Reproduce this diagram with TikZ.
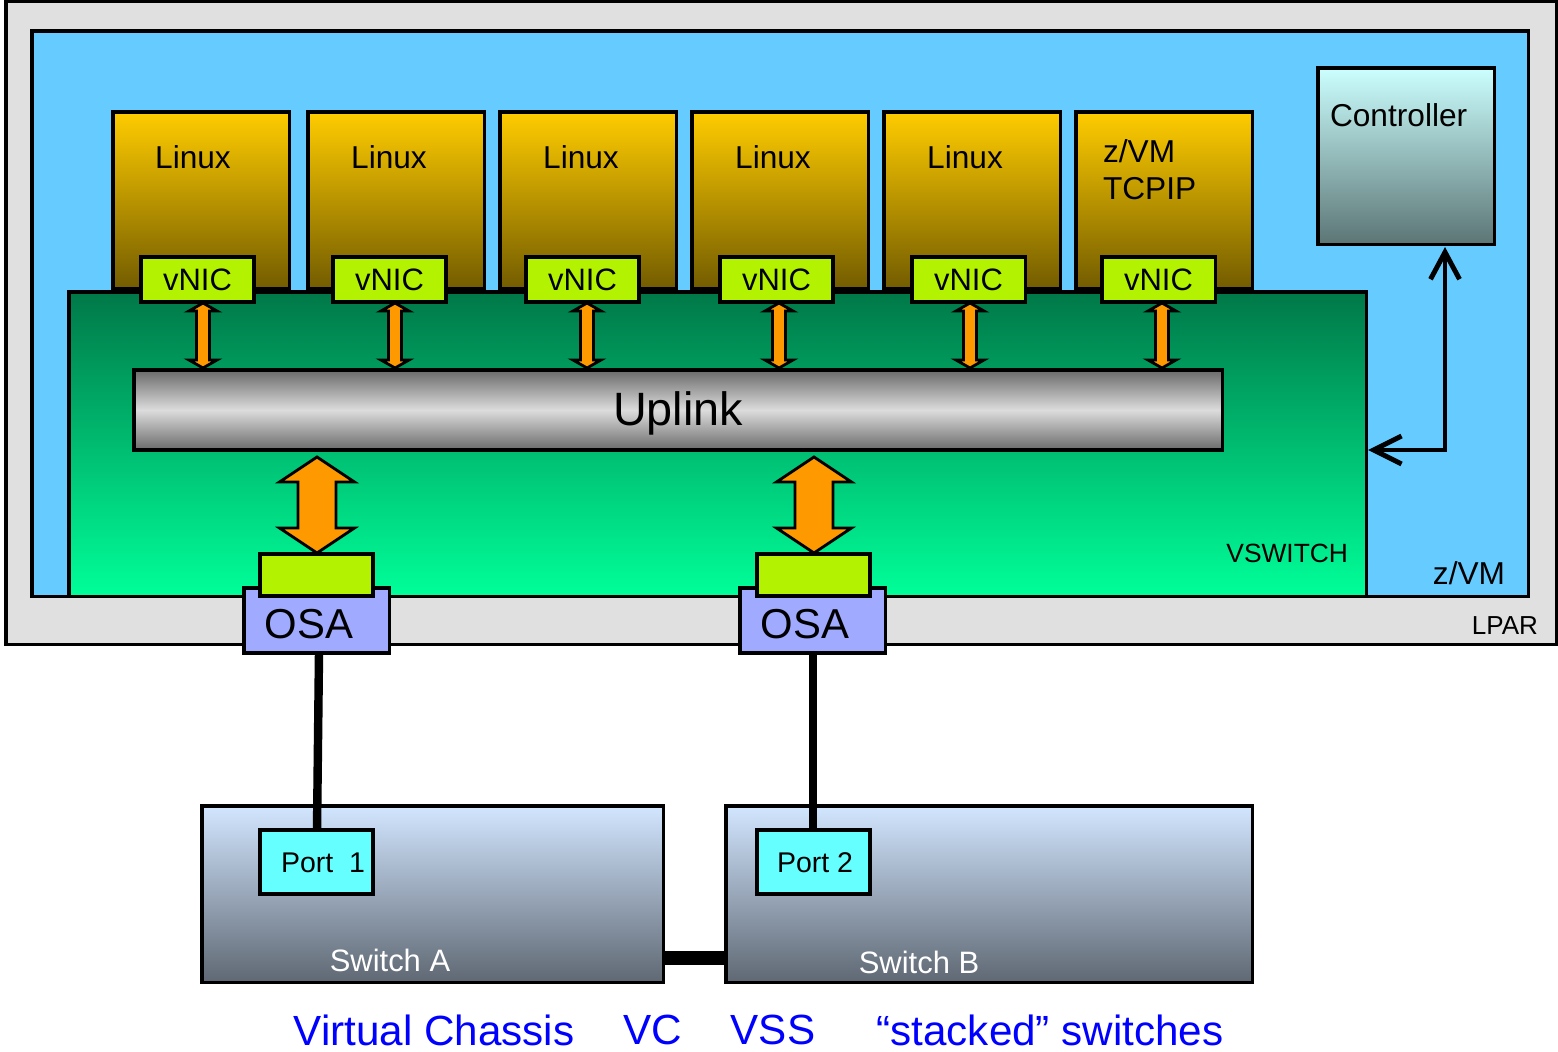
\documentclass[tikz,border=0pt]{standalone}
\usepackage{fontspec}
\setmainfont{Liberation Sans}
\usetikzlibrary{arrows.meta}
\definecolor{lparC}{HTML}{E0E0E0}
\definecolor{zvmC}{HTML}{66CCFF}
\definecolor{linTop}{HTML}{FFCC00}
\definecolor{linBot}{HTML}{735C00}
\definecolor{nicC}{HTML}{B3F200}
\definecolor{vswTop}{HTML}{007848}
\definecolor{vswBot}{HTML}{00FF99}
\definecolor{upDark}{HTML}{6A6A6A}
\definecolor{upLight}{HTML}{DCDCDC}
\definecolor{orangeC}{HTML}{FF9900}
\definecolor{osaC}{HTML}{A0AAFF}
\definecolor{ctlTop}{HTML}{CCFFFF}
\definecolor{ctlBot}{HTML}{5C7575}
\definecolor{swTop}{HTML}{D2E6FF}
\definecolor{swBot}{HTML}{5F6873}
\definecolor{portC}{HTML}{66FFFF}
\newcommand\fs[1]{\fontsize{#1}{#1}\selectfont}
\newcommand\DblArr[6]{% x, ytop, ybot, shaft half, head half, head length
  \filldraw[arrowbody] ({#1},{#2}) -- ({#1+#5},{#2+#6}) -- ({#1+#4},{#2+#6})
    -- ({#1+#4},{#3-#6}) -- ({#1+#5},{#3-#6}) -- ({#1},{#3})
    -- ({#1-#5},{#3-#6}) -- ({#1-#4},{#3-#6}) -- ({#1-#4},{#2+#6})
    -- ({#1-#5},{#2+#6}) -- cycle;}
\begin{document}
\begin{tikzpicture}[x=0.01cm,y=-0.01cm,
  box/.style={draw=black,line width=0.9pt,anchor=north west,inner sep=0pt,outer sep=0pt},
  lparbox/.style={box,fill=lparC},
  zvmbox/.style={box,fill=zvmC},
  linuxbox/.style={box,top color=linTop,bottom color=linBot,minimum width=1.76cm,minimum height=1.76cm},
  nicbox/.style={box,fill=nicC,minimum width=1.13cm,minimum height=0.45cm,font=\fs{8.8}},
  vswbox/.style={box,top color=vswTop,bottom color=vswBot},
  uplinkbox/.style={box,top color=upDark,bottom color=upDark,middle color=upLight},
  osabox/.style={box,fill=osaC,minimum width=1.45cm,minimum height=0.65cm},
  ctlbox/.style={box,top color=ctlTop,bottom color=ctlBot},
  swbox/.style={box,top color=swTop,bottom color=swBot},
  portbox/.style={box,fill=portC,minimum width=1.13cm,minimum height=0.64cm},
  arrowbody/.style={fill=orangeC,draw=black,line width=0.8pt,line join=miter},
  lbl/.style={inner sep=0pt,outer sep=0pt},
  ctlarrow/.style={line width=1.4pt,{Straight Barb[length=0.27cm,width=0.29cm]}-{Straight Barb[length=0.28cm,width=0.28cm]}},
  cable/.style={line width=2.4pt},
  bottomtext/.style={lbl,text=blue,font=\fs{12}}
]
\useasboundingbox (0,0) rectangle (1558,1051);
% LPAR and z/VM
\node[lparbox,minimum width=15.50cm,minimum height=6.43cm] (lpar) at (6,1) {};
\node[zvmbox,minimum width=14.96cm,minimum height=5.65cm] (zvm) at (32,31) {};
\node[lbl,anchor=east,font=\fs{7.4}] (lparlbl) at (1538,626) {LPAR};
\node[lbl,anchor=east,font=\fs{9}] (zvmlbl) at (1505,573) {z/VM};
% Linux guests
\foreach \i/\x in {1/113,2/308,3/500,4/692,5/884,6/1076}{
  \node[linuxbox] (g\i) at (\x,112) {};
}
\foreach \i/\x in {1/193,2/389,3/581,4/773,5/965}{
  \node[lbl,font=\fs{9}] (gl\i) at (\x,157) {Linux};
}
\node[lbl,anchor=west,font=\fs{9}] (gl6a) at (1103,151) {z/VM};
\node[lbl,anchor=west,font=\fs{9}] (gl6b) at (1103,189) {TCPIP};
% Controller
\node[ctlbox,minimum width=1.76cm,minimum height=1.76cm] (ctl) at (1318,68) {};
\node[lbl,anchor=west,font=\fs{9}] (ctllbl) at (1330,115) {Controller};
% VSWITCH
\node[vswbox,minimum width=12.97cm,minimum height=3.04cm] (vsw) at (69,292) {};
\node[lbl,anchor=east,font=\fs{7.5}] (vswlbl) at (1348,553) {VSWITCH};
% Uplink
\node[uplinkbox,minimum width=10.88cm,minimum height=0.80cm] (up) at (134,370) {};
\node[lbl,font=\fs{13.3}] (uplbl) at (678,413) {Uplink};
% vNICs
\foreach \i/\x in {1/141,2/333,3/526,4/720,5/912,6/1102}{
  \node[nicbox] (n\i) at (\x,257) {vNIC};
}
% small arrows vNIC <-> Uplink
\foreach \x in {203,395,587,779,970,1162}{
  \DblArr{\x}{303}{368}{6.5}{14}{8}
}
% OSA adapters
\node[osabox] (osa1) at (244,588) {};
\node[osabox] (osa2) at (740,588) {};
\node[lbl,font=\fs{11.9}] (osal1) at (309,624) {OSA};
\node[lbl,font=\fs{11.9}] (osal2) at (805,624) {OSA};
\node[box,fill=nicC,minimum width=1.13cm,minimum height=0.42cm] (osn1) at (260,554) {};
\node[box,fill=nicC,minimum width=1.13cm,minimum height=0.42cm] (osn2) at (757,554) {};
% big arrows
\DblArr{317}{457}{553}{19}{37.5}{25}
\DblArr{814}{457}{553}{19}{37.5}{25}
% Controller arrow
\coordinate (ca) at (1445,247);
\coordinate (cb) at (1368,450);
\draw[ctlarrow] (ca) |- (cb);
% Switches
\node[swbox,minimum width=4.61cm,minimum height=1.76cm] (swa) at (202,806) {};
\node[swbox,minimum width=5.26cm,minimum height=1.76cm] (swb) at (726,806) {};
\node[lbl,text=white,font=\fs{8.8}] (swal) at (390,960) {Switch A};
\node[lbl,text=white,font=\fs{8.8}] (swbl) at (919,962) {Switch B};
\draw[line width=4pt] (swa.east |- 0,958) -- (swb.west |- 0,958);
% Ports
\node[portbox] (p1) at (260,830) {};
\node[portbox] (p2) at (757,830) {};
\node[lbl,font=\fs{8.1}] (p1l) at (323,863) {Port\ \ 1};
\node[lbl,font=\fs{8.1}] (p2l) at (815,863) {Port 2};
% cables
\draw[cable] (osa1.south -| 319,0) -- (p1.north -| 317,0);
\draw[cable] (osa2.south -| 813,0) -- (p2.north -| 813,0);
% bottom text
\node[bottomtext] (t1) at (434,1030) {Virtual Chassis};
\node[bottomtext] (t2) at (653,1030) {VC};
\node[bottomtext] (t3) at (773,1030) {VSS};
\node[bottomtext] (t4) at (1050,1030) {“stacked” switches};
\end{tikzpicture}
\end{document}
